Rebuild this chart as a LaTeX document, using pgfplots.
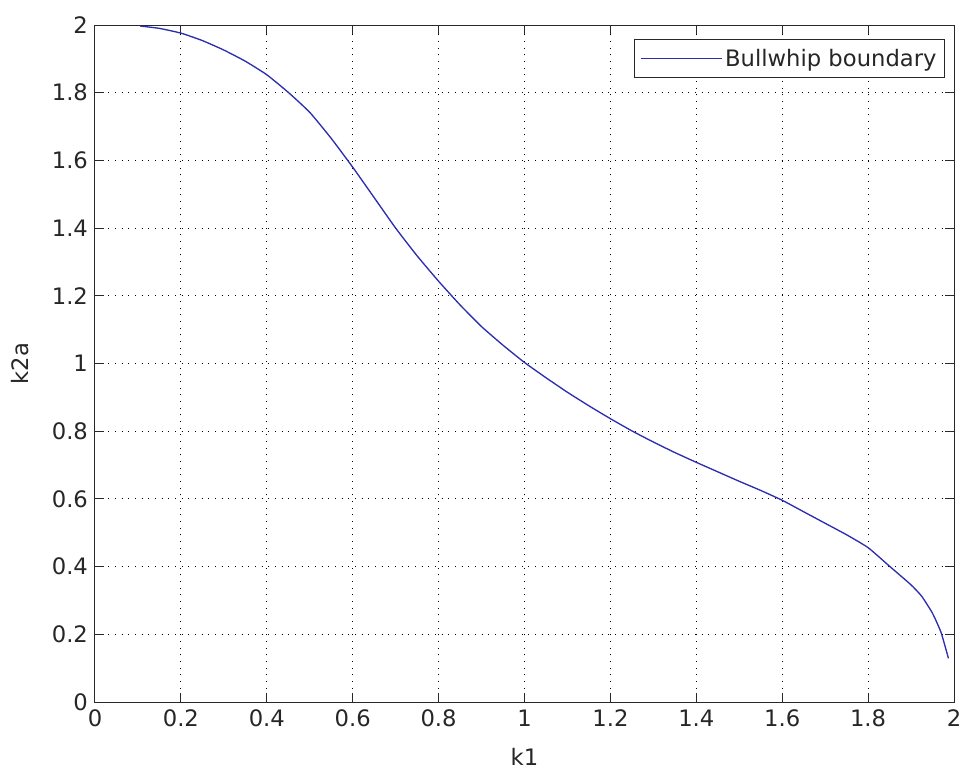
\documentclass[border=0pt]{standalone}
\usepackage{pgfplots}
\pgfplotsset{compat=1.18}
\usepackage{fontspec}
\setmainfont{DejaVu Sans}
\definecolor{mlblue}{RGB}{45,45,175}
\definecolor{axgray}{RGB}{40,40,40}
\begin{document}
\begin{tikzpicture}
\path[use as bounding box] (-71.25pt,-50.25pt) rectangle (651pt,526.5pt);
\begin{axis}[
  scale only axis,
  width=644.25pt, height=507.75pt,
  at={(0,0)}, anchor=south west,
  xmin=0, xmax=2, ymin=0, ymax=2,
  xtick={0,0.2,...,2.01}, ytick={0,0.2,...,2.01},
  xticklabels={0,0.2,0.4,0.6,0.8,1,1.2,1.4,1.6,1.8,2},
  yticklabels={0,0.2,0.4,0.6,0.8,1,1.2,1.4,1.6,1.8,2},
  tick align=inside,
  major tick length=6.75pt,
  axis line style={axgray, line width=0.75pt},
  every tick/.style={axgray, line width=0.75pt},
  grid=major,
  major grid style={black, line width=0.75pt, dash pattern=on 0.75pt off 4.25pt},
  tick label style={font=\fontsize{17}{20}\selectfont, text=black!85},
  xticklabel style={yshift=-2.5pt},
  yticklabel style={xshift=-1.8pt},
  label style={font=\fontsize{17}{20}\selectfont, text=black!85},
  xlabel={k1}, ylabel={k2a},
  xlabel style={at={(axis description cs:0.5,-0.0812)}, anchor=center},
  ylabel style={at={(axis description cs:-0.0873,0.5)}, anchor=center},
  legend style={at={(rel axis cs:0.9895,0.9793)}, anchor=north east,
    draw=axgray, line width=0.75pt, font=\fontsize{17}{20}\selectfont,
    inner xsep=4pt, inner ysep=5pt, text=black!85},
  legend cell align=left,
  legend image code/.code={\draw[#1, line width=1pt] (0pt,0pt) -- (60.75pt,0pt);},
]
\addplot[mlblue, line width=1pt, smooth, tension=0.3] coordinates {
(0.105,1.997)
(0.15,1.99)
(0.2,1.976)
(0.25,1.954)
(0.3,1.926)
(0.35,1.893)
(0.4,1.853)
(0.45,1.801)
(0.5,1.742)
(0.55,1.665)
(0.6,1.58)
(0.65,1.49)
(0.7,1.40)
(0.75,1.318)
(0.8,1.243)
(0.85,1.173)
(0.9,1.109)
(0.95,1.054)
(1.0,1.003)
(1.05,0.958)
(1.1,0.915)
(1.15,0.875)
(1.2,0.837)
(1.25,0.801)
(1.3,0.768)
(1.35,0.737)
(1.4,0.708)
(1.45,0.68)
(1.5,0.652)
(1.55,0.625)
(1.6,0.596)
(1.65,0.562)
(1.7,0.528)
(1.75,0.494)
(1.8,0.456)
(1.85,0.401)
(1.9,0.346)
(1.925,0.312)
(1.95,0.262)
(1.97,0.205)
(1.987,0.129)
};
\addlegendentry{Bullwhip boundary}
\end{axis}
\end{tikzpicture}
\end{document}
